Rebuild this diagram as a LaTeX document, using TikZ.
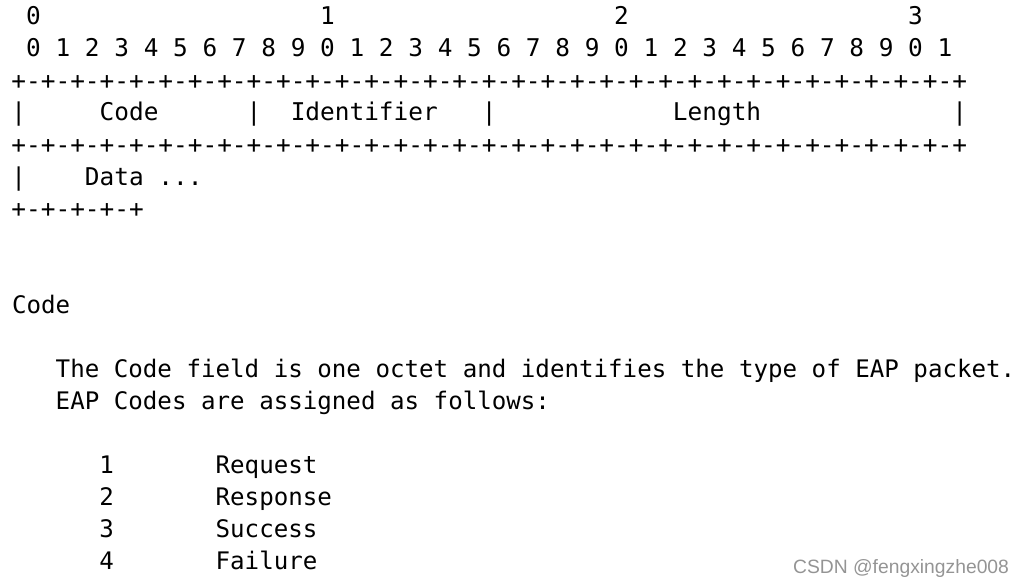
\documentclass[tikz,border=0pt]{standalone}
\usepackage{fontspec}
\setmonofont{DejaVu Sans Mono}
\newfontfamily\wmfont{Liberation Sans}
\newcommand{\hdrfont}{\ttfamily\fontsize{24.42}{30}\selectfont}
\newcommand{\bodyfont}{\ttfamily\fontsize{24.15}{30}\selectfont}
\begin{document}
\begin{tikzpicture}[x=1pt,y=-1pt,
  hdr/.style={anchor=base west, inner sep=0pt, outer sep=0pt, font=\hdrfont, text=black},
  body/.style={anchor=base west, inner sep=0pt, outer sep=0pt, font=\bodyfont, text=black},
  wm/.style={anchor=base east, inner sep=0pt, outer sep=0pt, font=\wmfont\fontsize{19.3}{22}\selectfont, text=black!42}]
\useasboundingbox (0,0) rectangle (1020,586);
% header grid: x = 11.45 + 14.70*col, y = 25 + 32*row
\node[hdr] (d0)  at ({11.45+14.70*1},25) {0};
\node[hdr] (d1)  at ({11.45+14.70*21},25) {1};
\node[hdr] (d2)  at ({11.45+14.70*41},25) {2};
\node[hdr] (d3)  at ({11.45+14.70*61},25) {3};
\node[hdr] (bits) at ({11.45+14.70*1},57) {0 1 2 3 4 5 6 7 8 9 0 1 2 3 4 5 6 7 8 9 0 1 2 3 4 5 6 7 8 9 0 1};
\node[hdr] (rule1) at (11.45,89) {+-+-+-+-+-+-+-+-+-+-+-+-+-+-+-+-+-+-+-+-+-+-+-+-+-+-+-+-+-+-+-+-+};
\node[hdr] (bar0) at (11.45,121) {|};
\node[hdr] (fcode) at ({11.45+14.70*6},121) {Code};
\node[hdr] (bar1) at ({11.45+14.70*16},121) {|};
\node[hdr] (fid) at ({11.45+14.70*19},121) {Identifier};
\node[hdr] (bar2) at ({11.45+14.70*32},121) {|};
\node[hdr] (flen) at ({11.45+14.70*45},121) {Length};
\node[hdr] (bar3) at ({11.45+14.70*64},121) {|};
\node[hdr] (rule2) at (11.45,153) {+-+-+-+-+-+-+-+-+-+-+-+-+-+-+-+-+-+-+-+-+-+-+-+-+-+-+-+-+-+-+-+-+};
\node[hdr] (bar4) at (11.45,185) {|};
\node[hdr] (fdata) at ({11.45+14.70*5},185) {Data ...};
\node[hdr] (rule3) at (11.45,217) {+-+-+-+-+};
% body text: x = 12.1 + 14.54*col
\node[body] (title) at (12.1,313) {Code};
\node[body] (p1) at ({12.1+14.54*3},377) {The Code field is one octet and identifies the type of EAP packet.};
\node[body] (p2) at ({12.1+14.54*3},409) {EAP Codes are assigned as follows:};
\node[body] (n1) at ({12.1+14.54*6},473) {1};
\node[body] (t1) at ({12.1+14.54*14},473) {Request};
\node[body] (n2) at ({12.1+14.54*6},505) {2};
\node[body] (t2) at ({12.1+14.54*14},505) {Response};
\node[body] (n3) at ({12.1+14.54*6},537) {3};
\node[body] (t3) at ({12.1+14.54*14},537) {Success};
\node[body] (n4) at ({12.1+14.54*6},569) {4};
\node[body] (t4) at ({12.1+14.54*14},569) {Failure};
\node[wm] (mark) at (1009,573) {CSDN @fengxingzhe008};
\end{tikzpicture}
\end{document}
